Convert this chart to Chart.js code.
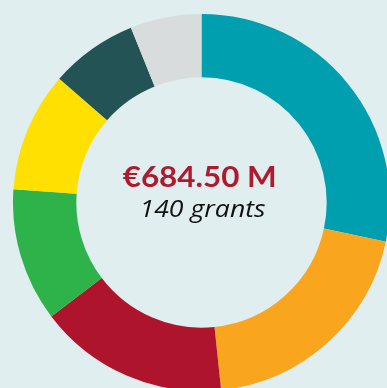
<!DOCTYPE html>
<html lang="en">
<head>
  <meta charset="UTF-8">
  <title>Grants by area</title>
  <script src="https://cdn.jsdelivr.net/npm/chart.js"></script>
  <style>
    html, body { margin: 0; padding: 0; width: 387px; height: 388px; overflow: hidden; background: #e0eeef; }
    .wrap { position: absolute; left: 13px; top: 14px; width: 377px; height: 377px; }
  </style>
</head>
<body>
  <div class="wrap"><canvas id="donut"></canvas></div>

  <script>
    // amounts in € millions, clockwise from 12 o'clock
    const categories = ['Area A', 'Area B', 'Area C', 'Area D', 'Area E', 'Area F', 'Area G'];
    const amounts = [194.0, 136.9, 111.8, 78.3, 70.4, 51.3, 41.8];
    const colors = ['#009fb0', '#f9a51d', '#ae142b', '#2eb34a', '#ffe000', '#245356', '#d8dcdc'];
    const totalLabel = '€684.50 M';
    const grantsLabel = '140 grants';

    // draw a line of text stretched to a given width around x
    function fitText(ctx, text, x, y, width) {
      const w = ctx.measureText(text).width;
      ctx.save();
      ctx.translate(x, y);
      ctx.scale(width / w, 1);
      ctx.fillText(text, 0, 0);
      ctx.restore();
    }

    const centerText = {
      id: 'centerText',
      afterDraw(chart) {
        const { ctx, chartArea } = chart;
        const cx = (chartArea.left + chartArea.right) / 2;
        const cy = (chartArea.top + chartArea.bottom) / 2;
        ctx.save();
        ctx.textAlign = 'center';
        ctx.textBaseline = 'alphabetic';

        ctx.fillStyle = '#ae1a2e';
        ctx.font = 'bold 29px Lato, sans-serif';
        fitText(ctx, totalLabel, cx - 1.8, cy - 15.5, 154);

        ctx.fillStyle = '#111';
        ctx.font = 'italic 23px "Open Sans", sans-serif';
        fitText(ctx, grantsLabel, cx + 1, cy + 14.5, 126);
        ctx.restore();
      }
    };

    new Chart(document.getElementById('donut'), {
      type: 'doughnut',
      data: {
        labels: categories,
        datasets: [{
          data: amounts,
          backgroundColor: colors,
          borderWidth: 0,
          hoverOffset: 0
        }]
      },
      options: {
        responsive: true,
        maintainAspectRatio: false,
        animation: false,
        cutout: '66.4%',
        layout: { padding: 0 },
        plugins: { legend: { display: false }, tooltip: { enabled: false } }
      },
      plugins: [centerText]
    });
  </script>
</body>
</html>
